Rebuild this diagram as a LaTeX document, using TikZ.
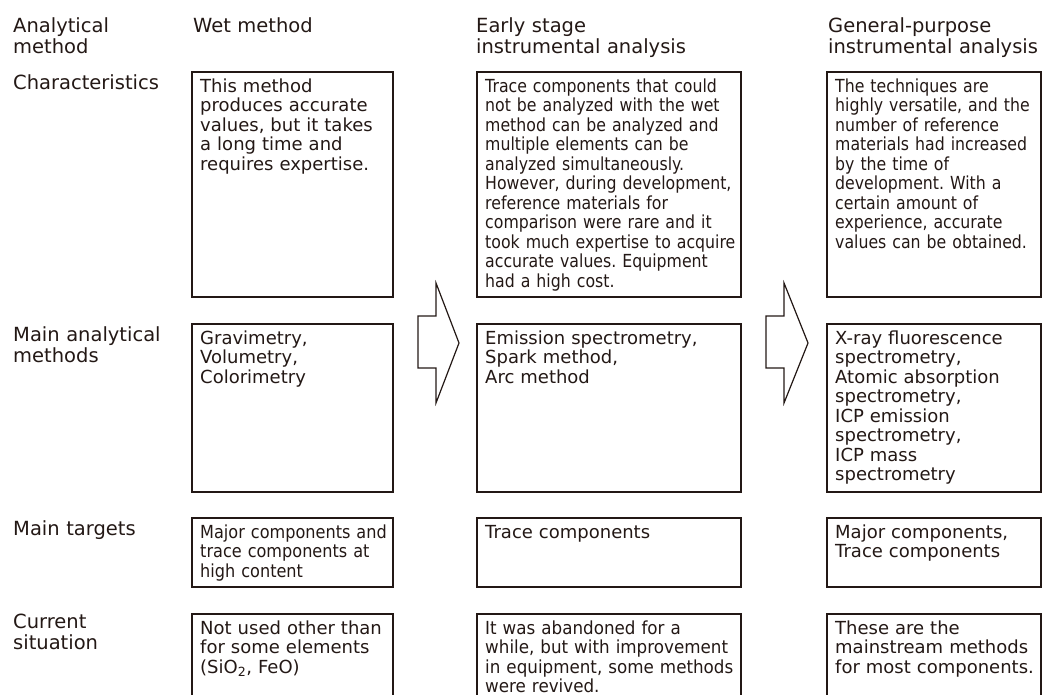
\documentclass[tikz,border=0pt]{standalone}
\usepackage{fontspec}
\setmainfont{DejaVu Sans}
\newfontfamily\narrowA{DejaVu Sans}[FakeStretch=0.875]
\newfontfamily\narrowB{DejaVu Sans}[FakeStretch=0.895]
\newfontfamily\narrowC{DejaVu Sans}[FakeStretch=0.93]
\definecolor{ink}{HTML}{231815}
\frenchspacing
\tikzset{
  cell/.style={draw=ink, line width=1.2pt, outer sep=0pt, inner sep=0pt},
  body/.style={text=ink, inner sep=0pt, text width=260pt, align=left,
    font=\fontsize{18}{19.5}\selectfont, execute at begin node=\rule{0pt}{14pt}},
  squeeze/.style={body, font=\fontsize{18}{19.5}#1},
  head/.style={text=ink, inner sep=0pt, text width=220pt, align=left,
    font=\fontsize{19.5}{21.5}\selectfont, execute at begin node=\rule{0pt}{15pt}},
  blockarrow/.style={draw=ink, line width=1.2pt, line join=miter}
}
\begin{document}
\begin{tikzpicture}[x=1pt, y=-1pt, anchor=north west]
\useasboundingbox (0,0) rectangle (1045,695);
\clip (0,0) rectangle (1045,695);
\node[head] (hm) at (13,17) {Analytical\\method};
\node[head] (hw) at (193,17) {Wet method};
\node[head] (he) at (476,17) {Early stage\\instrumental analysis};
\node[head] (hg) at (828,17) {General-purpose\\instrumental analysis};
\node[head] (lc) at (13,74) {Characteristics};
\node[head] (la) at (13,326) {Main analytical\\methods};
\node[head] (lt) at (13,520) {Main targets};
\node[head] (ls) at (13,613) {Current\\situation};
\node[cell, minimum width=201pt, minimum height=225pt] (w1) at (192,72) {};
\node[cell, minimum width=264pt, minimum height=225pt] (e1) at (477,72) {};
\node[cell, minimum width=214pt, minimum height=225pt] (g1) at (827,72) {};
\node[cell, minimum width=201pt, minimum height=168pt] (w2) at (192,324) {};
\node[cell, minimum width=264pt, minimum height=168pt] (e2) at (477,324) {};
\node[cell, minimum width=214pt, minimum height=168pt] (g2) at (827,324) {};
\node[cell, minimum width=201pt, minimum height=69pt] (w3) at (192,518) {};
\node[cell, minimum width=264pt, minimum height=69pt] (e3) at (477,518) {};
\node[cell, minimum width=214pt, minimum height=69pt] (g3) at (827,518) {};
\node[cell, minimum width=201pt, minimum height=100pt] (w4) at (192,614) {};
\node[cell, minimum width=264pt, minimum height=100pt] (e4) at (477,614) {};
\node[cell, minimum width=214pt, minimum height=100pt] (g4) at (827,614) {};
\node[body] (tw1) at ([shift={(8,6)}]w1.north west) {This method\\produces accurate\\values, but it takes\\a long time and\\requires expertise.};
\node[squeeze=\narrowA] (te1) at ([shift={(8,6)}]e1.north west) {Trace components that could\\not be analyzed with the wet\\method can be analyzed and\\multiple elements can be\\analyzed simultaneously.\\However, during development,\\reference materials for\\comparison were rare and it\\took much expertise to acquire\\accurate values. Equipment\\had a high cost.};
\node[squeeze=\narrowA] (tg1) at ([shift={(8,6)}]g1.north west) {The techniques are\\highly versatile, and the\\number of reference\\materials had increased\\by the time of\\development. With a\\certain amount of\\experience, accurate\\values can be obtained.};
\node[body] (tw2) at ([shift={(8,6)}]w2.north west) {Gravimetry,\\Volumetry,\\Colorimetry};
\node[body] (te2) at ([shift={(8,6)}]e2.north west) {Emission spectrometry,\\Spark method,\\Arc method};
\node[body] (tg2) at ([shift={(8,6)}]g2.north west) {X-ray fluorescence\\spectrometry,\\Atomic absorption\\spectrometry,\\ICP emission\\spectrometry,\\ICP mass\\spectrometry};
\node[squeeze=\narrowB] (tw3) at ([shift={(8,6)}]w3.north west) {Major components and\\trace components at\\high content};
\node[body] (te3) at ([shift={(8,6)}]e3.north west) {Trace components};
\node[body] (tg3) at ([shift={(8,6)}]g3.north west) {Major components,\\Trace components};
\node[body] (tw4) at ([shift={(8,6)}]w4.north west) {Not used other than\\for some elements\\(SiO\textsubscript{2}, FeO)};
\node[squeeze=\narrowC] (te4) at ([shift={(8,6)}]e4.north west) {It was abandoned for a\\while, but with improvement\\in equipment, some methods\\were revived.};
\node[body] (tg4) at ([shift={(8,6)}]g4.north west) {These are the\\mainstream methods\\for most components.};
\draw[blockarrow] (418,316) -- (436,316) -- (436,283) -- (459,343) -- (436,403) -- (436,368) -- (418,368) -- cycle;
\draw[blockarrow] (766,316) -- (784,316) -- (784,283) -- (808,343) -- (784,403) -- (784,368) -- (766,368) -- cycle;
\end{tikzpicture}
\end{document}
